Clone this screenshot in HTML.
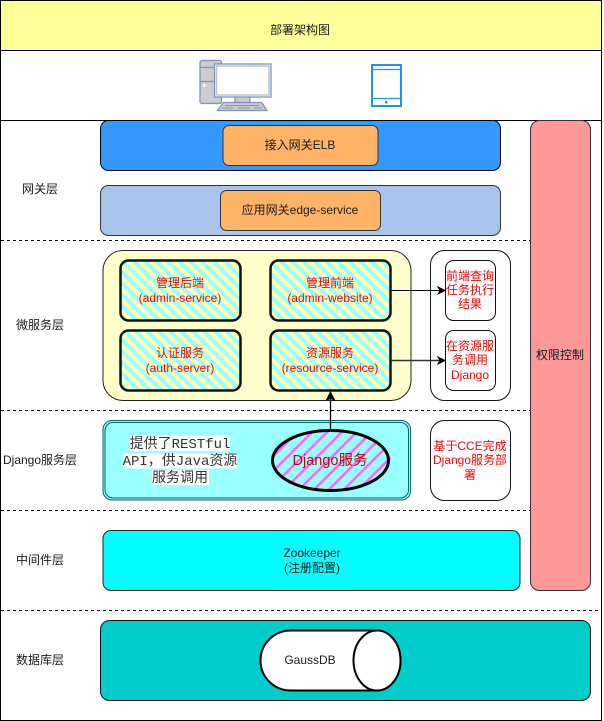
<!DOCTYPE html>
<html><head><meta charset="utf-8">
<style>
html,body{margin:0;padding:0;background:#fff;width:604px;height:721px;overflow:hidden}
svg{display:block}
text{font-family:"Liberation Sans","Noto Sans CJK SC",sans-serif;font-size:12px;fill:#1a1a1a;text-anchor:middle}
text.r{fill:#ff0000}
text.m{font-family:"Liberation Mono","WenQuanYi Zen Hei",monospace;font-size:14px;fill:#333}
</style></head><body>
<svg width="604" height="721" viewBox="0 0 604 721" xmlns="http://www.w3.org/2000/svg">
<defs>
<pattern id="h" width="8" height="8" patternUnits="userSpaceOnUse" patternTransform="rotate(-45)">
<rect width="8" height="8" fill="#99ffff"/><rect width="4" height="8" fill="#ffffb8"/>
</pattern>
<pattern id="p" width="10.5" height="10" patternUnits="userSpaceOnUse" patternTransform="rotate(45)">
<rect width="2.6" height="10" fill="#ff66ff"/>
</pattern>
</defs>

<!-- frame and header bands -->
<rect x="0.5" y="0.5" width="601" height="720" fill="#fff" stroke="#000"/>
<rect x="0.5" y="0.5" width="601" height="50" fill="#ffff99" stroke="#000"/>
<rect x="0.5" y="50.5" width="601" height="70" fill="#fff" stroke="#000"/>
<text x="300" y="34">部署架构图</text>
<path d="M1 240.5H531M1 410.5H531M1 510.5H531M1 610.5H601" stroke="#000" stroke-dasharray="3 3" fill="none"/>

<!-- computer icon -->
<g stroke="#7b93c4" stroke-width="1.3">
<rect x="200" y="60.5" width="21.5" height="43" rx="2" fill="#cccccc"/>
<path d="M200 67.5H221.5M200 81.5H221.5" fill="none"/>
<rect x="235" y="96.5" width="15" height="6" fill="#cccccc"/>
<rect x="214.5" y="64" width="56.5" height="33" fill="#fff"/>
<path d="M217.5 110.5L223.5 102.5H261.5L267 110.5Z" fill="#cccccc"/>
<path d="M225 105.5H259M222 108H233M238 108H250M254 108H262" fill="none" stroke-width="1"/>
</g>
<rect x="216.5" y="66" width="52.5" height="29" fill="none" stroke="#c4c4c4" stroke-width="1.5"/>
<rect x="203" y="84" width="2.5" height="2.5" fill="#fff"/>

<!-- tablet icon -->
<rect x="372" y="65" width="29" height="41" fill="#fff" stroke="#1e90ff" stroke-width="2"/>
<path d="M372 69.5H401M372 98.5H401" stroke="#1e90ff" stroke-width="1.3" fill="none"/>
<rect x="385" y="101" width="2.5" height="2.5" fill="#1e90ff"/>

<!-- permission column -->
<rect x="530.5" y="120.5" width="60" height="470" rx="9" fill="#ff9999" stroke="#333"/>
<text x="560" y="359">权限控制</text>

<!-- lane labels -->
<text x="40" y="193">网关层</text>
<text x="40" y="329">微服务层</text>
<text x="40" y="464">Django服务层</text>
<text x="40" y="564">中间件层</text>
<text x="40" y="664">数据库层</text>

<!-- gateway -->
<rect x="100.5" y="120.5" width="400" height="50" rx="8" fill="#3399ff" stroke="#000"/>
<rect x="223" y="125.5" width="155" height="40" rx="6" fill="#ffb366" stroke="#333"/>
<text x="300" y="149">接入网关ELB</text>
<rect x="100.5" y="185.5" width="400" height="50" rx="8" fill="#a9c4eb" stroke="#333"/>
<rect x="220.5" y="190.5" width="160" height="40" rx="6" fill="#ffb366" stroke="#333"/>
<text x="300" y="214">应用网关edge-service</text>

<!-- microservices -->
<rect x="103" y="250.5" width="308" height="150" rx="20" fill="#ffffcc" stroke="#222"/>
<g fill="url(#h)" stroke="#111" stroke-width="2.5">
<rect x="120.5" y="260.5" width="120" height="60" rx="8"/>
<rect x="270.5" y="260.5" width="120" height="60" rx="8"/>
<rect x="120.5" y="330.5" width="120" height="60" rx="8"/>
<rect x="270.5" y="330.5" width="120" height="60" rx="8"/>
</g>
<text class="r" x="180" y="287">管理后端</text>
<text class="r" x="180" y="302">(admin-service)</text>
<text class="r" x="330" y="287">管理前端</text>
<text class="r" x="330" y="302">(admin-website)</text>
<text class="r" x="180" y="357">认证服务</text>
<text class="r" x="180" y="372">(auth-server)</text>
<text class="r" x="330" y="357">资源服务</text>
<text class="r" x="330" y="372">(resource-service)</text>

<!-- right notes -->
<rect x="430.5" y="250.5" width="80" height="150" rx="14" fill="#fff" stroke="#111"/>
<rect x="445.5" y="260.5" width="50" height="60" rx="8" fill="#fff" stroke="#111"/>
<rect x="445.5" y="330.5" width="50" height="60" rx="8" fill="#fff" stroke="#111"/>
<text class="r" x="470" y="280">前端查询</text>
<text class="r" x="470" y="294">任务执行</text>
<text class="r" x="470" y="308">结果</text>
<text class="r" x="470" y="350">在资源服</text>
<text class="r" x="470" y="364">务调用</text>
<text class="r" x="470" y="379">Django</text>

<!-- connectors -->
<path d="M391 290.5H440" stroke="#000" fill="none"/>
<path d="M445 290.5L438 287L440 290.5L438 294Z" fill="#000" stroke="#000"/>
<path d="M391 360.5H440" stroke="#333" stroke-width="1.5" fill="none"/>
<path d="M445 360.5L438 357L440 360.5L438 364Z" fill="#000" stroke="#000"/>

<!-- django layer -->
<rect x="103" y="420.5" width="307.5" height="79.5" rx="9" fill="#99ffff" stroke="#006666"/>
<rect x="105" y="422.5" width="303.5" height="75.5" rx="8" fill="none" stroke="#006666"/>
<rect x="130" y="435.5" width="100" height="15.5" fill="#fff"/>
<rect x="123" y="453" width="114" height="15.5" fill="#fff"/>
<rect x="152" y="470" width="57" height="15" fill="#fff"/>
<text class="m" x="180" y="448">提供了RESTful</text>
<text class="m" x="180" y="465">API，供Java资源</text>
<text class="m" x="180" y="482">服务调用</text>
<ellipse cx="332" cy="461.5" rx="59" ry="30" fill="url(#p)"/>
<ellipse cx="330.5" cy="460.5" rx="58" ry="30" fill="none" stroke="#000" stroke-width="3"/>
<text x="330" y="465" style="font-size:14.5px;fill:#cc0000">Django服务</text>
<path d="M330.5 430V399" stroke="#000" stroke-width="1.3" fill="none"/>
<path d="M330.5 392L326.5 400L330.5 398.5L334.5 400Z" fill="#000" stroke="#000"/>
<rect x="430.5" y="420.5" width="80" height="80" rx="14" fill="#fff" stroke="#111"/>
<text class="r" x="470" y="450">基于CCE完成</text>
<text class="r" x="470" y="464">Django服务部</text>
<text class="r" x="470" y="479">署</text>

<!-- middleware -->
<rect x="103" y="530.5" width="417" height="60" rx="8" fill="#00ffff" stroke="#222"/>
<text x="312" y="557">Zookeeper</text>
<text x="312" y="572">(注册配置)</text>

<!-- database -->
<rect x="100.5" y="620.5" width="490" height="80" rx="9" fill="#00cccc" stroke="#111"/>
<path d="M290.5 630.5H377A23.5 30 0 0 1 377 690.5H290.5A30 30 0 0 1 290.5 630.5Z" fill="#fff" stroke="#000" stroke-width="2"/>
<ellipse cx="377" cy="660.5" rx="23.5" ry="30" fill="#fff" stroke="#000" stroke-width="2"/>
<text x="310" y="664">GaussDB</text>
</svg>
</body></html>
